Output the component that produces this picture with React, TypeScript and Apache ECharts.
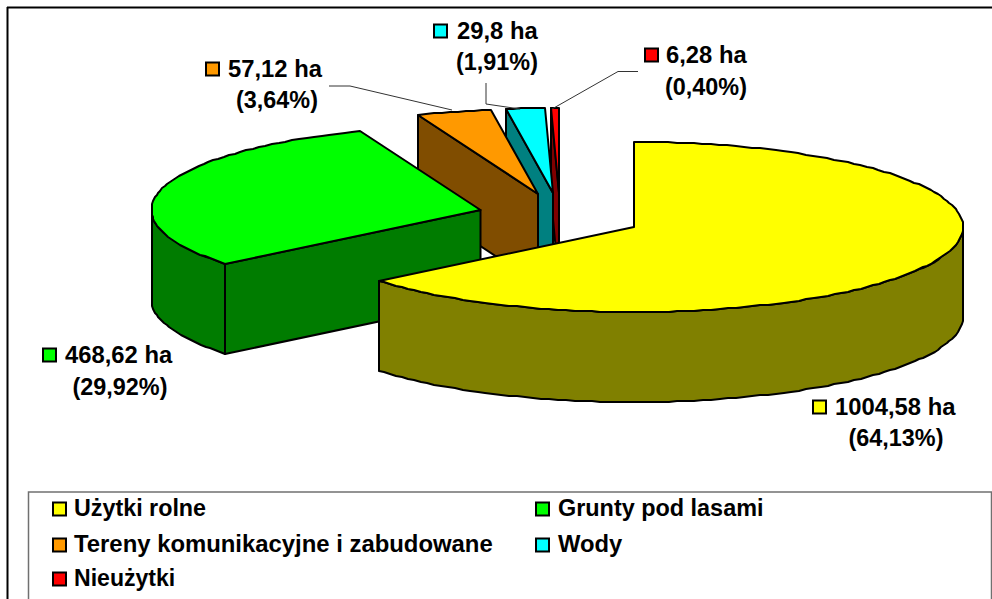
import React, { useEffect, useRef } from "react";
import * as echarts from "echarts";

const categories = ["Użytki rolne", "Grunty pod lasami", "Tereny komunikacyjne i zabudowane", "Wody", "Nieużytki"];
const hectares = [1004.58, 468.62, 57.12, 29.8, 6.28];
const percents = [64.13, 29.92, 3.64, 1.91, 0.4];
const topColors = ["#FFFF00", "#00FF00", "#FF9900", "#00FFFF", "#FF0000"];
const sideColors = ["#808000", "#007C00", "#804D00", "#008080", "#800000"];
const apexes = [[634, 227], [480.5, 210], [538, 194], [553, 193], [559, 193]];
const labelAnchors = [
  [812, 407, 835, 406, 896, 438],
  [42, 355, 65, 354.5, 120, 387],
  [205, 69, 228, 68, 277, 100],
  [433, 31, 457, 30, 497, 62],
  [644, 55, 666, 54, 706, 87],
];
const legendCells = [[52, 509, 74], [535, 509, 558], [52, 545, 74], [535, 545, 558], [52, 579, 74]];
const legendStretch = [1.0, 1.005, 1.025, 1.02, 0.99];
const leaders = [
  [[329, 86], [350, 86], [452, 110]],
  [[486, 83], [486, 104], [520, 109]],
  [[638, 71.5], [618, 71.5], [552, 109]],
];

const RX = 329, RY = 85, DEPTH = 90, FONT = "Liberation Sans, Arial, sans-serif";
const total = hectares.reduce((a, b) => a + b, 0);
const starts = hectares.map((_, i) => hectares.slice(0, i).reduce((a, b) => a + b, 0) / total);

function at(cx: number, cy: number, ang: number, dz = 0): number[] {
  return [Math.round(cx + RX * Math.sin(ang)), Math.round(cy - RY * Math.cos(ang)) + dz];
}
function arcPts(cx: number, cy: number, a0: number, a1: number, dz = 0) {
  const step = (1.5 * Math.PI) / 180;
  const n = Math.max(1, Math.ceil((a1 - a0) / step));
  const out: number[][] = [];
  for (let i = 0; i <= n; i++) out.push(at(cx, cy, a0 + ((a1 - a0) * i) / n, dz));
  return out;
}

function renderSlice(_: any, api: any) {
  const idx = api.value(2) as number;
  const a0 = (api.value(1) as number) * 2 * Math.PI;
  const a1 = a0 + ((api.value(0) as number) / total) * 2 * Math.PI;
  const [cx, cy] = apexes[idx];
  const stroke = { stroke: "#000", lineWidth: 2, lineJoin: "round" };
  const side = { ...stroke, fill: sideColors[idx] };
  const children: any[] = [];
  const q = (pts: number[][]) => children.push({ type: "polygon", shape: { points: pts }, style: side });
  const wall0 = Math.max(a0, Math.PI / 2), wall1 = Math.min(a1, 1.5 * Math.PI);
  if (a0 > Math.PI) {
    const p = at(cx, cy, a0);
    q([[cx, cy], p, [p[0], p[1] + DEPTH], [cx, cy + DEPTH]]);
  }
  if (a1 < Math.PI && a1 > 0) {
    const p = at(cx, cy, a1);
    q([[cx, cy], p, [p[0], p[1] + DEPTH], [cx, cy + DEPTH]]);
  }
  if (wall1 > wall0) {
    q([...arcPts(cx, cy, wall0, wall1), ...arcPts(cx, cy, wall0, wall1, DEPTH).reverse()]);
  }
  children.push({
    type: "polygon",
    shape: { points: [[cx, cy], ...arcPts(cx, cy, a0, a1)] },
    style: { ...stroke, fill: topColors[idx] },
  });
  return { type: "group", children };
}

function swatch(x: number, yc: number, fill: string) {
  return { type: "rect", shape: { x: x + 1, y: yc - 6.5, width: 13, height: 13 }, style: { fill, stroke: "#000", lineWidth: 2 }, z: 10 };
}
function text(t: string, x: number, y: number, size: number, align = "left", scaleX = 1) {
  return {
    type: "text", x, y, scaleX,
    style: { text: t, fill: "#000", font: `bold ${size}px ${FONT}`, align, verticalAlign: "middle" },
    z: 10,
  };
}

export default function App() {
  const ref = useRef<HTMLDivElement>(null);
  useEffect(() => {
    const chart = echarts.init(ref.current!, undefined, { renderer: "svg" });
    const graphics: any[] = [
      { type: "line", shape: { x1: 7, y1: 7.5, x2: 992, y2: 7.5 }, style: { stroke: "#000", lineWidth: 2 } },
      { type: "line", shape: { x1: 7.5, y1: 7, x2: 7.5, y2: 599 }, style: { stroke: "#000", lineWidth: 2 } },
      { type: "polyline", shape: { points: [[28.5, 599], [28.5, 492], [991.5, 492], [991.5, 599]] }, style: { stroke: "#707070", lineWidth: 1.5, fill: "none" } },
    ];
    leaders.forEach((pts) =>
      graphics.push({ type: "polyline", shape: { points: pts }, style: { stroke: "#333", lineWidth: 1, fill: "none" }, z: 5 })
    );
    categories.forEach((name, i) => {
      const [lx, ly, ltx] = legendCells[i];
      graphics.push(swatch(lx, ly, topColors[i]), text(name, ltx, ly - 1, 23.3, "left", legendStretch[i]));
      const [sx, sy, tx, ty, pcx, py] = labelAnchors[i];
      graphics.push(
        swatch(sx, sy, topColors[i]),
        text(`${String(hectares[i]).replace(".", ",")} ha`, tx, ty, 23.8),
        text(`(${percents[i].toFixed(2).replace(".", ",")}%)`, pcx, py, 23.4, "center")
      );
    });
    chart.setOption({
      animation: false,
      backgroundColor: "#fff",
      graphic: { elements: graphics },
      series: [
        {
          type: "custom",
          coordinateSystem: "none",
          renderItem: renderSlice,
          silent: true,
          data: categories.map((_, i) => [hectares[i], starts[i], i]).reverse(),
        },
      ],
    });
    return () => chart.dispose();
  }, []);
  return <div ref={ref} style={{ position: "absolute", left: 0, top: 0, width: 992, height: 599 }} />;
}
